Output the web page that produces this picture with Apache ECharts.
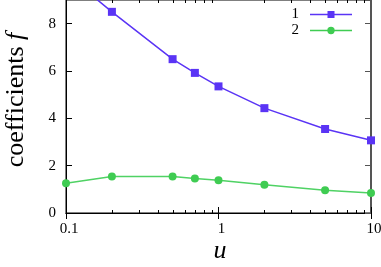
<!DOCTYPE html>
<html><head><meta charset="utf-8">
<script src="https://cdn.jsdelivr.net/npm/echarts@6/dist/echarts.min.js"></script>
<style>html,body{margin:0;padding:0;background:#fff}#c{width:381px;height:267px}</style>
</head><body><div id="c"></div>
<script>
var uValues = [0.1, 0.2, 0.5, 0.7, 1, 2, 5, 10];
var series1 = [10.1, 8.5, 6.5, 5.92, 5.35, 4.43, 3.55, 3.07];
var series2 = [1.26, 1.54, 1.54, 1.46, 1.38, 1.19, 0.96, 0.84];
var seriesNames = ['1', '2'];
var xMinorTicks = [0.2, 0.3, 0.4, 0.5, 0.6, 0.7, 0.8, 0.9, 2, 3, 4, 5, 6, 7, 8, 9];
var xLabel = 'u';
var yLabelMain = 'coefficients ';
var yLabelSymbol = 'f';

var serif = '"Liberation Serif", "DejaVu Serif", serif';
var chart = echarts.init(document.getElementById('c'), null, {renderer: 'canvas'});
function pairs(xs, ys) { return xs.map(function (x, i) { return [x, ys[i]]; }); }

var iconRect = 'path://M0,4.2L42,4.2L42,5.8L0,5.8Z M17.5,1.5L24.5,1.5L24.5,8.5L17.5,8.5Z';
var iconCircle = 'path://M0,4.2L42,4.2L42,5.8L0,5.8Z M24.7,5A3.7,3.7,0,1,1,17.3,5A3.7,3.7,0,1,1,24.7,5Z';

var option = {
  animation: false,
  grid: {left: 66, right: 10, top: 0, bottom: 54, show: true, borderColor: '#000', borderWidth: 1,
    outerBoundsMode: 'none', containLabel: false},
  legend: {
    right: 29, top: 7, padding: 0, orient: 'vertical', align: 'right', itemWidth: 42, itemHeight: 9, itemGap: 1,
    textStyle: {fontFamily: serif, fontSize: 15, color: '#000', padding: [0, 6, 0, 0]},
    data: [{name: seriesNames[0], icon: iconRect}, {name: seriesNames[1], icon: iconCircle}]
  },
  xAxis: [{
    type: 'log', logBase: 10, min: 0.1, max: 10,
    axisLine: {lineStyle: {color: '#000'}},
    axisTick: {inside: true, length: 6, lineStyle: {color: '#000'}},
    axisLabel: {fontFamily: serif, fontSize: 15, color: '#000', margin: 9, padding: [0, 0, 0, 6],
      formatter: function (v) { return v < 1 ? String(Math.round(v * 10) / 10) : String(Math.round(v)); }},
    splitLine: {show: false}
  }, {
    type: 'log', logBase: 10, min: 0.1, max: 10, position: 'top',
    axisLine: {lineStyle: {color: '#000'}},
    axisTick: {inside: true, length: 6, lineStyle: {color: '#000'}},
    axisLabel: {show: false}, splitLine: {show: false}
  }],
  yAxis: [{
    type: 'value', min: 0, max: 9, interval: 2,
    axisLine: {show: true, lineStyle: {color: '#000'}},
    axisTick: {show: true, inside: true, length: 6, lineStyle: {color: '#000'}},
    axisLabel: {fontFamily: serif, fontSize: 15, color: '#000', margin: 10, showMaxLabel: false},
    splitLine: {show: false}
  }, {
    type: 'value', min: 0, max: 9, interval: 2, position: 'right',
    axisLine: {show: true, lineStyle: {color: '#555', width: 2}},
    axisTick: {show: true, inside: true, length: 6, lineStyle: {color: '#555'}},
    axisLabel: {show: false}, splitLine: {show: false}
  }],
  graphic: [
    {type: 'text', x: 16, y: 100, rotation: Math.PI / 2,
      style: {text: yLabelMain + '{i|' + yLabelSymbol + '}', font: '26px ' + serif, fill: '#000',
        align: 'center', verticalAlign: 'middle',
        rich: {i: {fontFamily: serif, fontSize: 26, fontStyle: 'italic', fill: '#000'}}}},
    {type: 'text', x: 220, y: 251,
      style: {text: xLabel, font: 'italic 26px ' + serif, fill: '#000', align: 'center', verticalAlign: 'middle'}}
  ],
  series: [{
    name: seriesNames[0], type: 'line', data: pairs(uValues, series1),
    symbol: 'rect', symbolSize: 8, clip: true,
    lineStyle: {color: '#5a34f5', width: 1.5}, itemStyle: {color: '#5a34f5'}
  }, {
    name: seriesNames[1], type: 'line', data: pairs(uValues, series2),
    symbol: 'circle', symbolSize: 8, clip: true,
    lineStyle: {color: '#4fd264', width: 1.5}, itemStyle: {color: '#3fcc52'}
  }, {
    type: 'custom', silent: true, legendHoverLink: false,
    data: xMinorTicks.map(function (v) { return [v, 0]; }),
    renderItem: function (params, api) {
      var cs = params.coordSys;
      var p = api.coord([api.value(0), 0]);
      var x = Math.round(p[0]) + 0.5;
      var bot = cs.y + cs.height, top = cs.y;
      return {type: 'group', children: [
        {type: 'line', shape: {x1: x, y1: bot, x2: x, y2: bot - 3}, style: {stroke: '#000', lineWidth: 1}},
        {type: 'line', shape: {x1: x, y1: top, x2: x, y2: top + 3}, style: {stroke: '#000', lineWidth: 1}}
      ]};
    }
  }]
};
chart.setOption(option);
</script></body></html>
